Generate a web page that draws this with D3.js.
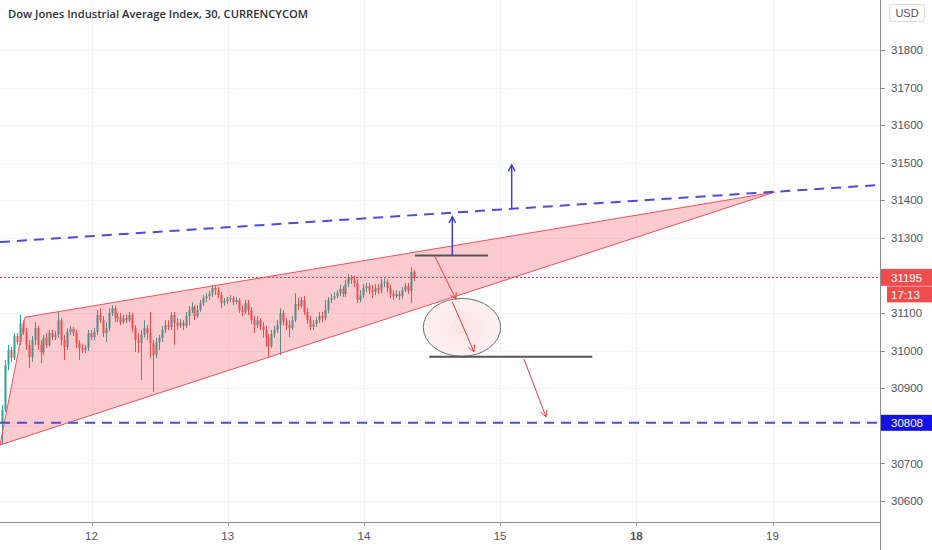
<!DOCTYPE html>
<html><head><meta charset="utf-8">
<script src="https://cdn.jsdelivr.net/npm/d3@7/dist/d3.min.js"></script>
<style>body{margin:0;background:#fff}svg{display:block}</style>
</head><body>
<svg id="c" width="932" height="550"></svg>
<script>
// ---- data ----
const title = "Dow Jones Industrial Average Index, 30, CURRENCYCOM";
const dayLabels = ["12","13","14","15","18","19"];   // session ticks at 1..6
const boldDay = "18";
const priceMin = 30600, priceMax = 31800, priceStep = 100;
const barsPerDay = 46, firstBarDay = 0.343;
const opens = [30807,30842,30962,31002,30980,31039,31023,31074,31050,31015,30983,31028,31060,31015,30996,31034,31015,31047,31036,31042,
31081,31028,31010,31050,31058,31047,31020,31007,31002,31007,31047,31036,31050,31095,31081,31047,31060,31100,31113,31087,
31089,31076,31087,31081,31095,31060,31028,31020,31042,31060,31047,31020,30988,31023,31034,31055,31068,31063,31095,31074,
31066,31074,31066,31092,31108,31116,31092,31108,31127,31140,31145,31151,31167,31161,31148,31127,31132,31137,31140,31129,
31135,31108,31103,31127,31108,31081,31068,31081,31063,31055,31034,31012,31044,31055,31068,31100,31076,31068,31060,31081,
31124,31119,31135,31103,31081,31063,31071,31081,31092,31087,31108,31135,31140,31145,31153,31164,31151,31177,31193,31188,
31180,31135,31148,31167,31172,31161,31156,31167,31161,31180,31183,31167,31151,31145,31151,31145,31161,31172,31159,31209];
const highs = [30855,30975,31015,31010,31047,31047,31095,31081,31060,31028,31039,31076,31066,31028,31042,31047,31055,31055,31052,31103,
31087,31042,31060,31066,31063,31055,31028,31018,31015,31055,31055,31060,31108,31113,31092,31076,31113,31121,31119,31100,
31100,31095,31097,31103,31100,31068,31047,31055,31081,31068,31103,31028,31034,31042,31066,31081,31081,31103,31103,31087,
31084,31081,31103,31119,31129,31121,31121,31135,31148,31153,31159,31175,31175,31169,31156,31140,31143,31148,31145,31143,
31140,31121,31135,31135,31116,31092,31092,31087,31076,31066,31044,31055,31066,31081,31113,31108,31087,31081,31092,31153,
31140,31143,31145,31113,31092,31081,31089,31103,31103,31135,31143,31151,31156,31161,31175,31172,31188,31204,31201,31199,
31191,31161,31177,31180,31180,31175,31177,31177,31191,31193,31191,31175,31161,31161,31159,31169,31180,31180,31222,31215];
const lows = [30749,30837,30948,30970,30975,31015,31015,31042,31002,30954,30970,31015,31002,30967,30988,31007,31010,31028,31028,31034,
31015,30975,31002,31042,31039,31007,30975,30994,30994,30999,31028,31028,31042,31074,31036,31023,31052,31092,31076,31076,
31068,31071,31074,31076,31050,30996,30994,30922,31034,31028,30980,30890,30980,31002,31023,31047,31055,31055,31015,31055,
31060,31055,31060,31068,31100,31081,31087,31103,31119,31129,31135,31143,31148,31140,31113,31119,31124,31129,31121,31124,
31100,31092,31097,31095,31071,31047,31060,31055,31034,31010,30983,31007,31034,31047,30988,31066,31055,31036,31055,31076,
31108,31113,31095,31071,31055,31055,31063,31074,31076,31081,31100,31127,31135,31140,31145,31143,31143,31169,31177,31169,
31127,31129,31140,31156,31151,31140,31148,31151,31153,31169,31156,31140,31135,31140,31135,31137,31156,31151,31127,31185];
const closes = [30842,30962,31002,30980,31039,31023,31074,31050,31015,30983,31028,31060,31015,30996,31034,31015,31047,31036,31042,31081,
31028,31010,31050,31058,31047,31020,31007,31002,31007,31047,31036,31050,31095,31081,31047,31060,31100,31113,31087,31089,
31076,31087,31081,31095,31060,31028,31020,31042,31060,31047,31020,30988,31023,31034,31055,31068,31063,31095,31074,31066,
31074,31066,31092,31108,31116,31092,31108,31127,31140,31145,31151,31167,31161,31148,31127,31132,31137,31140,31129,31135,
31108,31103,31127,31108,31081,31068,31081,31063,31055,31034,31012,31044,31055,31068,31100,31076,31068,31060,31081,31124,
31119,31135,31103,31081,31063,31071,31081,31092,31087,31108,31135,31140,31145,31153,31164,31151,31177,31193,31188,31180,
31135,31148,31167,31172,31161,31156,31167,31161,31180,31183,31167,31151,31145,31151,31145,31161,31172,31159,31209,31195];
const lastPrice = 31195, countdown = "17:13";
const supportLevel = 30808;
// drawings: [sessionDay, price]
const wedge = [[0.328,30749],[0.512,31089],[6.018,31422]];
const upperTrend = [[0.328,31289],[6.79,31441]];
const topBar = [[3.375,31253],[3.911,31253]];
const lowBar = [[3.480,30984],[4.677,30984]];
const blueArrows = [[[3.649,31253],[3.649,31356]],[[4.085,31380],[4.085,31494]]];
const redArrows = [[[3.522,31250],[3.676,31137]],[[3.649,31130],[3.808,30997]],[[4.175,30978],[4.337,30824]]];
const ellipseBox = [[3.436,30985],[4.004,31139]];

// ---- layout ----
const W = 932, H = 550, plotR = 880, plotB = 522;
const svg = d3.select("#c");
const x = d3.scaleLinear().domain([1,6]).range([91.5,772.5]);
const y = d3.scaleLinear().domain([priceMin,priceMax]).range([501,50]);
const priceTicks = d3.range(priceMin, priceMax+1, priceStep);
const dayTicks = d3.range(1, dayLabels.length+1);

svg.append("defs").append("clipPath").attr("id","plot")
  .append("rect").attr("x",0).attr("y",0).attr("width",plotR).attr("height",plotB);
const g = svg.append("g").attr("clip-path","url(#plot)");

// grid
g.selectAll(".hg").data(priceTicks).join("line")
  .attr("x1",0).attr("x2",plotR).attr("y1",d=>Math.round(y(d))+0.5).attr("y2",d=>Math.round(y(d))+0.5)
  .attr("stroke","#f0f3fa");
g.selectAll(".vg").data(dayTicks).join("line")
  .attr("y1",0).attr("y2",plotB).attr("x1",d=>Math.round(x(d))+0.5).attr("x2",d=>Math.round(x(d))+0.5)
  .attr("stroke","#f0f3fa");

// candles
const bars = closes.map((c,i)=>({t:firstBarDay+i/barsPerDay,o:opens[i],h:highs[i],l:lows[i],c}));
const cg = g.append("g");
cg.selectAll("line").data(bars).join("line")
  .attr("x1",d=>Math.round(x(d.t))+0.5).attr("x2",d=>Math.round(x(d.t))+0.5)
  .attr("y1",d=>y(d.h)).attr("y2",d=>y(d.l))
  .attr("stroke",d=>d.c>=d.o?"#26a69a":"#ef5350").attr("stroke-width",1);
cg.selectAll("rect").data(bars).join("rect")
  .attr("x",d=>Math.round(x(d.t))-0.5).attr("width",2)
  .attr("y",d=>y(Math.max(d.o,d.c))).attr("height",d=>Math.max(1,Math.abs(y(d.o)-y(d.c))))
  .attr("fill",d=>d.c>=d.o?"#26a69a":"#ef5350");

// wedge
const line = d3.line().x(d=>x(d[0])).y(d=>y(d[1]));
g.append("path").attr("d",line(wedge)+"Z")
  .attr("fill","rgba(242,54,69,0.26)").attr("stroke","#f0505a").attr("stroke-width",1);

// current price dotted
g.append("line").attr("x1",0).attr("x2",plotR).attr("y1",Math.round(y(lastPrice))+0.5).attr("y2",Math.round(y(lastPrice))+0.5)
  .attr("stroke","#f23645").attr("stroke-width",1).attr("stroke-dasharray","2,2").attr("shape-rendering","crispEdges");

// blue dashed lines
g.append("path").attr("d",line(upperTrend)).attr("stroke","#4c4cd8").attr("stroke-width",2)
  .attr("stroke-dasharray","10,7").attr("fill","none");
g.append("line").attr("x1",0).attr("x2",plotR).attr("y1",y(supportLevel)).attr("y2",y(supportLevel))
  .attr("stroke","#4c4cd8").attr("stroke-width",2).attr("stroke-dasharray","10,7");

// ellipse
const [eb0,eb1] = ellipseBox;
const grad = svg.select("defs").append("radialGradient").attr("id","eg");
grad.append("stop").attr("offset","0%").attr("stop-color","#fbe0e0");
grad.append("stop").attr("offset","100%").attr("stop-color","#fdeeee");
g.append("ellipse")
  .attr("cx",(x(eb0[0])+x(eb1[0]))/2).attr("cy",(y(eb0[1])+y(eb1[1]))/2)
  .attr("rx",(x(eb1[0])-x(eb0[0]))/2).attr("ry",(y(eb0[1])-y(eb1[1]))/2)
  .attr("fill","url(#eg)").attr("fill-opacity",0.85).attr("stroke","#6b6b6b").attr("stroke-width",1);

// black bars
[topBar,lowBar].forEach(b=>{
  g.append("path").attr("d",line(b)).attr("stroke","#555").attr("stroke-width",2).attr("fill","none");
});

// arrows
function arrow(seg,color,w){
  const [a,b]=seg; const x1=x(a[0]),y1=y(a[1]),x2=x(b[0]),y2=y(b[1]);
  const ang=Math.atan2(y2-y1,x2-x1), L=7, sp=0.5;
  g.append("line").attr("x1",x1).attr("y1",y1).attr("x2",x2).attr("y2",y2).attr("stroke",color).attr("stroke-width",w);
  g.append("path").attr("d",`M${x2-L*Math.cos(ang-sp)},${y2-L*Math.sin(ang-sp)}L${x2},${y2}L${x2-L*Math.cos(ang+sp)},${y2-L*Math.sin(ang+sp)}`)
    .attr("stroke",color).attr("stroke-width",w).attr("fill","none");
}
blueArrows.forEach(s=>arrow(s,"#3d3dd6",1.5));
redArrows.forEach(s=>arrow(s,"#e83a3a",1));

// axes lines
svg.append("line").attr("x1",0).attr("x2",plotR).attr("y1",plotB+0.5).attr("y2",plotB+0.5).attr("stroke","#8a8d96");
svg.append("line").attr("x1",plotR+0.5).attr("x2",plotR+0.5).attr("y1",0).attr("y2",H).attr("stroke","#8a8d96");

// price axis
const font = "'Liberation Sans', Arial, sans-serif";
const skipNear = [lastPrice, supportLevel];
const shown = priceTicks.filter(p=>skipNear.every(s=>Math.abs(y(p)-y(s))>11));
const pa = svg.append("g");
pa.selectAll("line").data(shown).join("line")
  .attr("x1",plotR+1).attr("x2",plotR+5).attr("y1",d=>Math.round(y(d))+0.5).attr("y2",d=>Math.round(y(d))+0.5).attr("stroke","#8a8d96");
pa.selectAll("text").data(shown).join("text")
  .attr("x",891).attr("y",d=>y(d)).attr("dy","0.36em").text(d=>d)
  .attr("font-family",font).attr("font-size",11.5).attr("fill","#50535e");

function priceLabel(v,color,yy,text,x0,h){
  svg.append("rect").attr("x",x0).attr("y",yy-h/2).attr("width",W-x0).attr("height",h).attr("fill",color);
  svg.append("text").attr("x",891).attr("y",yy).attr("dy","0.36em").text(text)
    .attr("font-family",font).attr("font-size",11.5).attr("fill","#fff");
}
priceLabel(lastPrice,"#ef4d4d",y(lastPrice),String(lastPrice),881,17);
priceLabel(lastPrice,"#ef4d4d",y(lastPrice)+17,countdown,887,16);
priceLabel(supportLevel,"#1212e6",y(supportLevel),String(supportLevel),881,16);

// USD box
svg.append("rect").attr("x",889.5).attr("y",4.5).attr("width",35).attr("height",17).attr("rx",3)
  .attr("fill","#fff").attr("stroke","#d6d8de");
svg.append("text").attr("x",907).attr("y",13).attr("dy","0.36em").attr("text-anchor","middle").text("USD")
  .attr("font-family",font).attr("font-size",11).attr("fill","#50535e");

// time axis
const ta = svg.append("g");
ta.selectAll("line").data(dayTicks).join("line")
  .attr("x1",d=>Math.round(x(d))+0.5).attr("x2",d=>Math.round(x(d))+0.5).attr("y1",plotB).attr("y2",plotB+4).attr("stroke","#8a8d96");
ta.selectAll("text").data(dayTicks).join("text")
  .attr("x",d=>x(d)).attr("y",536).attr("dy","0.36em").attr("text-anchor","middle")
  .text(d=>dayLabels[d-1])
  .attr("font-weight",d=>dayLabels[d-1]===boldDay?"bold":"normal")
  .attr("font-family",font).attr("font-size",11.5).attr("fill","#50535e");

// title
svg.append("text").attr("x",8).attr("y",14).attr("dy","0.36em").text(title)
  .attr("font-family","'Open Sans', sans-serif").attr("font-weight",600).attr("font-size",11.2).attr("fill","#2a2e39");
</script>
</body></html>
